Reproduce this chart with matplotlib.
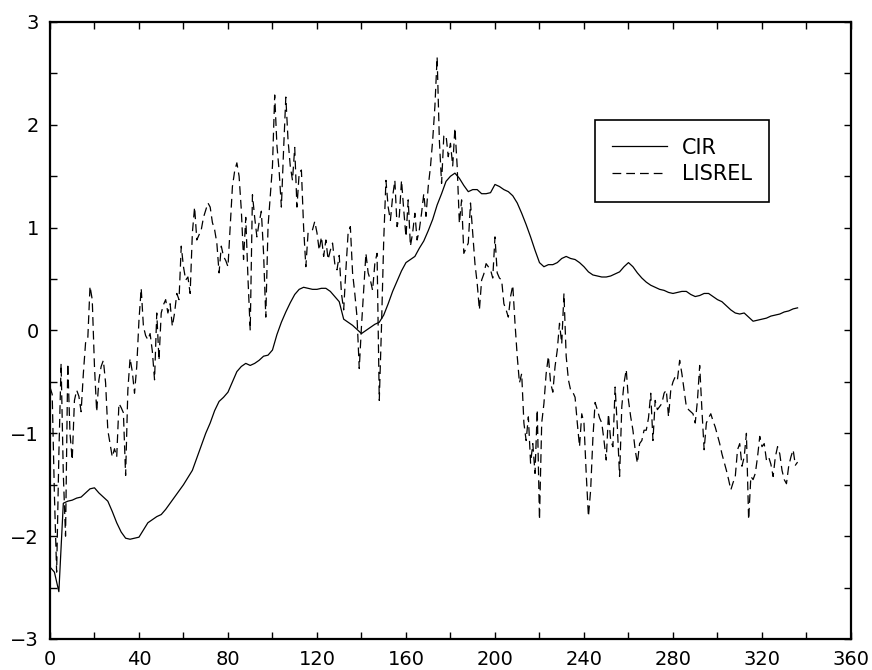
import numpy as np
import matplotlib
matplotlib.use("Agg")
import matplotlib.pyplot as plt
from matplotlib.ticker import MultipleLocator

# CIR, read every 2 units (x = 0, 2, ..., 336)
cir_x = np.arange(0, 337, 2)
cir = [-2.30, -2.35, -2.54, -1.68, -1.66, -1.65, -1.63, -1.62, -1.58, -1.54,
       -1.53, -1.58, -1.62, -1.66, -1.76, -1.87, -1.96, -2.02, -2.03, -2.02,
       -2.01, -1.94, -1.87, -1.84, -1.81, -1.79, -1.74, -1.68, -1.62, -1.56,
       -1.50, -1.43, -1.36, -1.24, -1.12, -1.00, -0.90, -0.78, -0.69, -0.65,
       -0.60, -0.50, -0.40, -0.35, -0.32, -0.34, -0.32, -0.29, -0.25, -0.24,
       -0.19, -0.04, 0.08, 0.18, 0.27, 0.35, 0.40, 0.42, 0.41, 0.40,
       0.40, 0.41, 0.41, 0.38, 0.33, 0.28, 0.11, 0.08, 0.05, 0.01,
       -0.03, 0.00, 0.03, 0.06, 0.08, 0.15, 0.26, 0.38, 0.48, 0.58,
       0.66, 0.69, 0.72, 0.80, 0.87, 0.97, 1.08, 1.22, 1.33, 1.45,
       1.50, 1.53, 1.48, 1.41, 1.35, 1.37, 1.37, 1.33, 1.33, 1.34,
       1.42, 1.40, 1.37, 1.35, 1.31, 1.24, 1.14, 1.03, 0.91, 0.78,
       0.66, 0.62, 0.64, 0.64, 0.66, 0.70, 0.72, 0.70, 0.69, 0.66,
       0.62, 0.57, 0.54, 0.53, 0.52, 0.52, 0.53, 0.55, 0.57, 0.62,
       0.66, 0.62, 0.56, 0.51, 0.47, 0.44, 0.42, 0.40, 0.39, 0.37,
       0.36, 0.37, 0.38, 0.38, 0.35, 0.33, 0.34, 0.36, 0.36, 0.33,
       0.30, 0.28, 0.24, 0.20, 0.17, 0.16, 0.17, 0.13, 0.09, 0.10,
       0.11, 0.12, 0.14, 0.15, 0.16, 0.18, 0.19, 0.21, 0.22]

# LISREL, read every unit (x = 0 .. 336)
lis_x = np.arange(0, 337)
lisrel = [-0.55, -0.62, -1.60, -2.35, -1.20, -0.32, -1.40, -2.00, -0.32, -1.00,
          -1.26, -0.68, -0.58, -0.64, -0.79, -0.42, -0.12, -0.08, 0.43, 0.30,
          -0.35, -0.79, -0.48, -0.35, -0.29, -0.51, -0.97, -1.10, -1.23, -1.15,
          -1.23, -0.71, -0.75, -0.80, -1.41, -0.58, -0.27, -0.40, -0.61, -0.35,
          0.10, 0.41, 0.04, -0.05, -0.09, -0.03, -0.20, -0.48, 0.17, -0.29,
          0.17, 0.25, 0.30, 0.17, 0.26, 0.04, 0.17, 0.36, 0.30, 0.82,
          0.62, 0.49, 0.52, 0.36, 0.95, 1.20, 0.88, 0.93, 0.98, 1.10,
          1.17, 1.24, 1.20, 1.05, 0.98, 0.85, 0.56, 0.82, 0.72, 0.68,
          0.62, 1.01, 1.40, 1.55, 1.63, 1.50, 1.17, 0.69, 1.10, 0.50,
          0.00, 1.32, 1.10, 0.91, 1.05, 1.16, 0.75, 0.13, 1.01, 1.30,
          1.60, 2.29, 1.80, 1.55, 1.20, 1.76, 2.27, 1.85, 1.60, 1.46,
          1.78, 1.20, 1.53, 1.56, 1.00, 0.62, 0.95, 0.97, 0.98, 1.06,
          0.95, 0.78, 0.91, 0.72, 0.88, 0.69, 0.78, 0.85, 0.65, 0.59,
          0.73, 0.36, 0.20, 0.59, 0.95, 1.01, 0.56, 0.36, 0.13, -0.37,
          0.04, 0.39, 0.75, 0.56, 0.49, 0.39, 0.65, 0.75, -0.68, 0.04,
          0.88, 1.46, 1.20, 1.07, 1.30, 1.46, 1.01, 1.11, 1.46, 1.17,
          0.91, 1.27, 0.82, 0.95, 1.14, 0.88, 0.98, 1.14, 1.33, 1.11,
          1.40, 1.59, 1.85, 2.18, 2.66, 1.85, 1.43, 1.89, 1.90, 1.69,
          1.82, 1.60, 1.97, 1.60, 1.04, 1.27, 0.75, 0.80, 0.85, 1.24,
          0.94, 0.65, 0.46, 0.20, 0.49, 0.55, 0.65, 0.62, 0.59, 0.51,
          0.91, 0.56, 0.51, 0.49, 0.26, 0.20, 0.13, 0.33, 0.44, 0.07,
          -0.25, -0.51, -0.42, -0.90, -1.07, -0.84, -1.29, -1.10, -1.39, -0.77,
          -1.84, -0.90, -0.71, -0.42, -0.25, -0.51, -0.60, -0.35, -0.19, 0.07,
          -0.13, 0.36, -0.25, -0.48, -0.58, -0.60, -0.65, -0.90, -1.13, -0.81,
          -0.90, -1.39, -1.81, -1.55, -1.05, -0.70, -0.77, -0.85, -0.90, -1.07,
          -1.26, -0.81, -1.07, -1.13, -0.55, -0.94, -1.42, -0.74, -0.51, -0.38,
          -0.68, -0.84, -0.97, -1.16, -1.29, -1.10, -1.07, -0.97, -0.97, -0.85,
          -0.61, -1.07, -0.68, -0.77, -0.74, -0.71, -0.61, -0.58, -0.84, -0.58,
          -0.50, -0.45, -0.48, -0.29, -0.42, -0.58, -0.74, -0.77, -0.79, -0.81,
          -0.90, -0.68, -0.34, -0.77, -1.16, -0.90, -0.85, -0.81, -0.88, -0.94,
          -1.02, -1.10, -1.20, -1.28, -1.36, -1.45, -1.55, -1.48, -1.42, -1.16,
          -1.10, -1.32, -1.23, -1.00, -1.84, -1.42, -1.45, -1.39, -1.23, -1.03,
          -1.13, -1.10, -1.26, -1.23, -1.30, -1.42, -1.23, -1.13, -1.20, -1.36,
          -1.45, -1.49, -1.32, -1.23, -1.16, -1.31, -1.28]

plt.rcParams['font.family'] = ['DejaVu Sans']

fig = plt.figure(figsize=(8.72, 6.70), dpi=100)
ax = fig.add_axes([0.0573, 0.0463, 0.9186, 0.9209])

ax.plot(cir_x, cir, color='black', lw=0.9, label='CIR')
ax.plot(lis_x, lisrel, color='black', lw=0.9, dashes=(7, 4), label='LISREL')

ax.set_xlim(0, 360)
ax.set_ylim(-3, 3)
ax.xaxis.set_major_locator(MultipleLocator(40))
ax.xaxis.set_minor_locator(MultipleLocator(20))
ax.yaxis.set_major_locator(MultipleLocator(1))
ax.yaxis.set_minor_locator(MultipleLocator(0.5))
ax.tick_params(which='both', direction='in', top=True, right=True,
               length=5, width=1, labelsize=14)
ax.tick_params(axis='x', pad=8)
ax.tick_params(axis='y', pad=8)
for s in ax.spines.values():
    s.set_linewidth(1.6)

leg = ax.legend(loc='upper left', bbox_to_anchor=(0.680, 0.841),
                borderaxespad=0, fancybox=False, framealpha=1,
                edgecolor='black', fontsize=15, handlelength=2.6,
                handletextpad=0.72, labelspacing=0.3, borderpad=0.85)
leg.get_frame().set_linewidth(1.2)

fig.savefig('out.png', dpi=100)
